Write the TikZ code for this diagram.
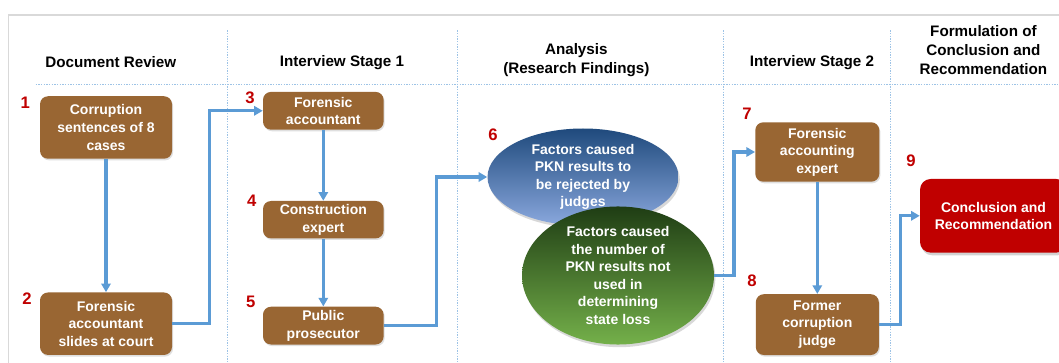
\documentclass[tikz,border=0pt]{standalone}
\usepackage{fontspec}
\setmainfont{Liberation Sans}
\usetikzlibrary{shapes.geometric,arrows.meta,shadows}
\definecolor{brownc}{HTML}{996633}
\definecolor{redc}{HTML}{C00000}
\definecolor{arrc}{HTML}{5B9BD5}
\definecolor{dotc}{HTML}{9DC3E6}
\definecolor{framec}{HTML}{D9D9D9}
\definecolor{numc}{HTML}{C00000}
\definecolor{bluetop}{HTML}{1F4A7C}
\definecolor{bluemid}{HTML}{2E5597}
\definecolor{bluebot}{HTML}{8AA8DE}
\definecolor{greentop}{HTML}{1F3D14}
\definecolor{greenmid}{HTML}{386A22}
\definecolor{greenbot}{HTML}{74B04A}
\tikzset{
  brownbox/.style={fill=brownc, rounded corners=6pt, text=white,
    font=\fontsize{10.5}{13.2}\selectfont\bfseries, align=center, inner sep=0pt,
    drop shadow={opacity=0.25, shadow xshift=0.8pt, shadow yshift=-1.2pt}},
  redbox/.style={fill=redc, rounded corners=8pt, text=white,
    font=\fontsize{10.5}{13.2}\selectfont\bfseries, align=center, inner sep=0pt,
    drop shadow={opacity=0.35, shadow xshift=1pt, shadow yshift=-2pt}},
  ell/.style={ellipse, inner sep=0pt, text=white, align=center,
    font=\fontsize{10.5}{13.1}\selectfont\bfseries,
    drop shadow={opacity=0.3, shadow xshift=1pt, shadow yshift=-2pt}},
  hdr/.style={font=\fontsize{11.4}{14}\selectfont\bfseries, align=center, inner sep=0pt},
  num/.style={text=numc, font=\fontsize{12.5}{14}\selectfont\bfseries, inner sep=0pt},
  arr/.style={draw=arrc, line width=2.3pt, -{Triangle[length=6.5pt,width=7pt]}},
  sep/.style={draw=dotc, line width=0.6pt, dash pattern=on 1pt off 1pt},
}
\begin{document}
\begin{tikzpicture}[x=0.75pt,y=-0.75pt]
\clip (0,0) rectangle (1059,363);
\fill[white] (0,0) rectangle (1059,363);
% frame
\draw[framec, line width=1.2pt] (8.4,15.2) rectangle (1100,400);
% separators
\coordinate (v1t) at (227.4,30.4); \coordinate (v1b) at (227.4,363);
\coordinate (v2t) at (457.1,30.4); \coordinate (v2b) at (457.1,363);
\coordinate (v3t) at (723.6,30.4); \coordinate (v3b) at (723.6,363);
\coordinate (v4t) at (890.8,30.4); \coordinate (v4b) at (890.8,363);
\coordinate (hl) at (35.5,84.5); \coordinate (hr) at (1059,84.5);
\draw[sep] (v1t) -- (v1b);
\draw[sep] (v2t) -- (v2b);
\draw[sep] (v3t) -- (v3b);
\draw[sep] (v4t) -- (v4b);
\draw[sep] (hl) -- (hr);
% headers
\node[hdr] (h1) at (110.8,62.5) {Document Review};
\node[hdr] (h2) at (342,62.5) {Interview Stage 1};
\node[hdr] (h3) at (576.3,60) {Analysis\\(Research Findings)};
\node[hdr] (h4) at (812,62.5) {Interview Stage 2};
\node[hdr] (h5) at (983.4,50) {Formulation of\\Conclusion and\\Recommendation};
% boxes
\node[brownbox, minimum width=132*0.75pt, minimum height=62.5*0.75pt] (b1) at (106,127.5) {Corruption\\sentences of 8\\cases};
\node[brownbox, minimum width=132*0.75pt, minimum height=62.5*0.75pt] (b2) at (106,323.7) {Forensic\\accountant\\slides at court};
\node[brownbox, minimum width=120.6*0.75pt, minimum height=37.8*0.75pt] (b3) at (323.3,110.8) {Forensic\\accountant};
\node[brownbox, minimum width=120.6*0.75pt, minimum height=37.4*0.75pt] (b4) at (323.3,219.7) {Construction\\expert};
\node[brownbox, minimum width=120.6*0.75pt, minimum height=37.8*0.75pt] (b5) at (323.3,325.6) {Public\\prosecutor};
\node[ell, top color=bluetop, middle color=bluemid, bottom color=bluebot, minimum width=191*0.75pt, minimum height=97*0.75pt] (e6) at (583,177) {Factors caused\\PKN results to\\be rejected by\\judges};
\node[ell, top color=greentop, middle color=greenmid, bottom color=greenbot, minimum width=192*0.75pt, minimum height=120*0.75pt] (e6b) at (618,275.5) {Factors caused\\the number of\\PKN results not\\used in\\determining\\state loss};
\node[brownbox, minimum width=124*0.75pt, minimum height=59.4*0.75pt] (b7) at (817.3,152) {Forensic\\accounting\\expert};
\node[brownbox, minimum width=123*0.75pt, minimum height=60.8*0.75pt] (b8) at (817.3,324.6) {Former\\corruption\\judge};
\node[redbox, minimum width=147*0.75pt, minimum height=73.6*0.75pt] (b9) at (993.5,215.8) {Conclusion and\\Recommendation};
% numbers
\node[num] (n1) at (25.3,103) {1};
\node[num] (n2) at (27,299) {2};
\node[num] (n3) at (250,98) {3};
\node[num] (n4) at (251.7,200.3) {4};
\node[num] (n5) at (250.7,301.6) {5};
\node[num] (n6) at (493,135) {6};
\node[num] (n7) at (747,114) {7};
\node[num] (n8) at (752,280.7) {8};
\node[num] (n9) at (911,161) {9};
% arrows
\draw[arr] (b1.south) -- (b2.north);
\draw[arr] (b2.east) -- ++(37.2,0) |- (b3.west);
\draw[arr] (b3.south) -- (b4.north);
\draw[arr] (b4.south) -- (b5.north);
\draw[arr] (b5.east) -- ++(52.4,0) |- (e6.west);
\draw[arr] (e6b.east) -- ++(19.7,0) |- (b7.west);
\draw[arr] (b7.south) -- (b8.north);
\draw[arr] (b8.east) -- ++(21.4,0) |- (b9.west);
\end{tikzpicture}
\end{document}
